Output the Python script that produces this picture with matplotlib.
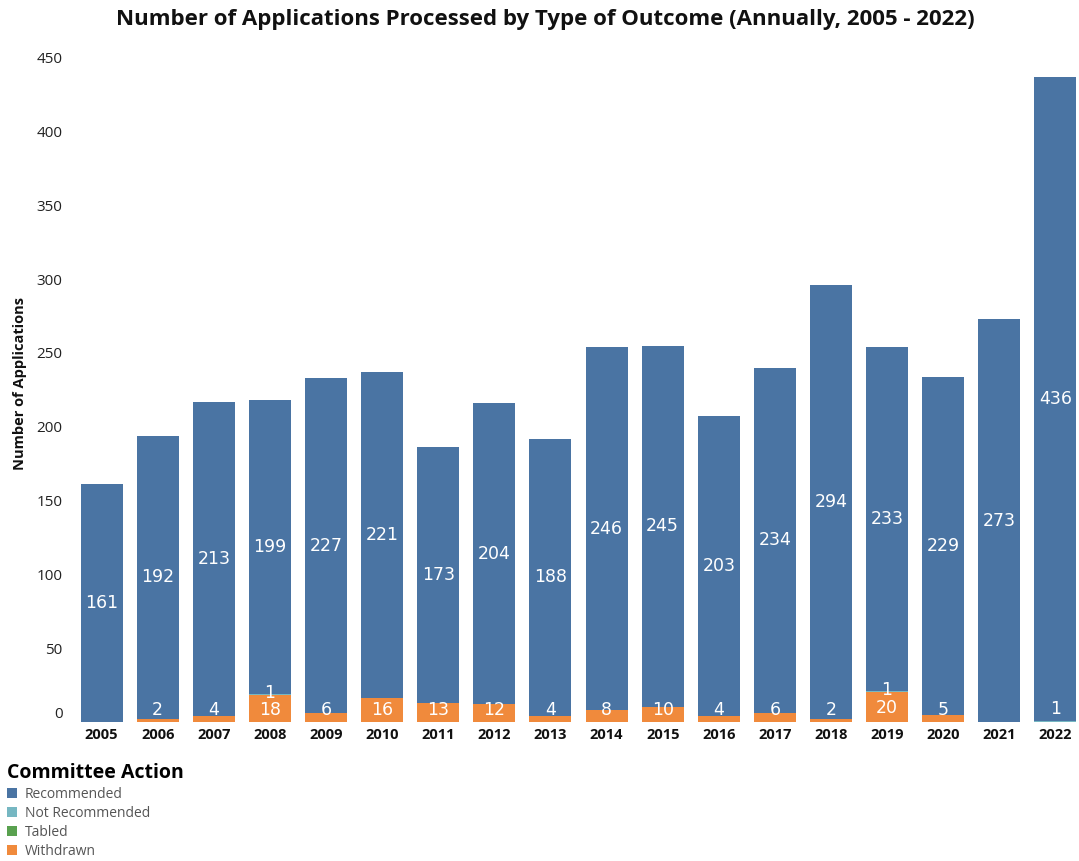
import matplotlib
matplotlib.use("Agg")
import matplotlib.pyplot as plt
from matplotlib.patches import Patch
import numpy as np

years = [str(y) for y in range(2005, 2023)]
recommended = [161, 192, 213, 199, 227, 221, 173, 204, 188, 246, 245, 203, 234, 294, 233, 229, 273, 436]
not_recommended = [0, 0, 0, 1, 0, 0, 0, 0, 0, 0, 0, 0, 0, 0, 1, 0, 0, 1]
tabled = [0] * 18
withdrawn = [0, 2, 4, 18, 6, 16, 13, 12, 4, 8, 10, 4, 6, 2, 20, 5, 0, 0]

series = [
    ("Withdrawn", withdrawn, "#f08a3c"),
    ("Tabled", tabled, "#59a14f"),
    ("Not Recommended", not_recommended, "#76b7c2"),
    ("Recommended", recommended, "#4a74a3"),
]
legend_order = ["Recommended", "Not Recommended", "Tabled", "Withdrawn"]

W, H = 1079, 861
fig = plt.figure(figsize=(W / 100, H / 100), dpi=100)
ax_left, ax_right, ax_bottom, ax_top = 78, 1079, 722, 50
ax = fig.add_axes([ax_left / W, 1 - ax_bottom / H,
                   (ax_right - ax_left) / W, (ax_bottom - ax_top) / H])

x = np.arange(len(years))
bar_w = 0.75
base = np.zeros(len(years))
for name, vals, color in series:
    v = np.array(vals, dtype=float)
    ax.bar(x, v, bottom=base, width=bar_w, color=color, edgecolor="none", label=name)
    base += v

ymax = (ax_bottom - ax_top) / 1.476
ax.set_ylim(0, ymax)
ax.set_xlim(-0.42, len(years) - 1 + 0.42)

label_font = dict(color="white", fontsize=12.5, ha="center", va="center", family="DejaVu Sans")
min_label_y = 9
for i in range(len(years)):
    w = withdrawn[i]
    nr = not_recommended[i]
    r = recommended[i]
    below = w + tabled[i] + nr
    ax.text(x[i], below + r / 2, str(r), **label_font)
    if w > 0:
        ax.text(x[i], max(w / 2, min_label_y) - 0.8, str(w), **label_font)
    if nr > 0:
        if w > 0:
            ax.text(x[i], w + tabled[i] + nr / 2 + 1.2, str(nr), **label_font)
        else:
            ax.text(x[i], min_label_y, str(nr), **label_font)

for s in ax.spines.values():
    s.set_visible(False)
ax.set_yticks(np.arange(0, 451, 50))
ax.set_yticklabels([str(v) for v in range(0, 451, 50)], family="Open Sans", fontsize=11, color="#222222")
ax.set_xticks(x)
ax.set_xticklabels(years, family="Open Sans", fontweight="bold", fontsize=10.5, color="#111111")
ax.tick_params(axis="y", length=0, pad=11)
ax.tick_params(axis="x", length=0, pad=4)
ax.get_yticklabels()[0].set_va("bottom")

fig.text(20 / W, 1 - 383 / H, "Number of Applications", rotation=90, ha="center", va="center",
         family="Open Sans", fontweight="bold", fontsize=10.5, color="#111111")

fig.text(545 / W, 1 - 19 / H,
         "Number of Applications Processed by Type of Outcome (Annually, 2005 - 2022)",
         ha="center", va="center", family="Open Sans", fontweight="bold", fontsize=16, color="#111111")

colors = {name: c for name, _, c in series}
handles = [Patch(facecolor=colors[n], edgecolor="none") for n in legend_order]
leg = fig.legend(handles, legend_order, loc="upper left", bbox_to_anchor=(7 / W, 1 - 763 / H),
                 frameon=False, title="Committee Action", alignment="left",
                 handlelength=0.75, handleheight=0.75, handletextpad=0.55,
                 labelspacing=0.28, borderaxespad=0, borderpad=0,
                 prop={"family": "Open Sans", "size": 10},
                 title_fontproperties={"family": "Open Sans", "weight": "bold", "size": 14})
for t in leg.get_texts():
    t.set_color("#555555")

fig.savefig("out.png", dpi=100)
